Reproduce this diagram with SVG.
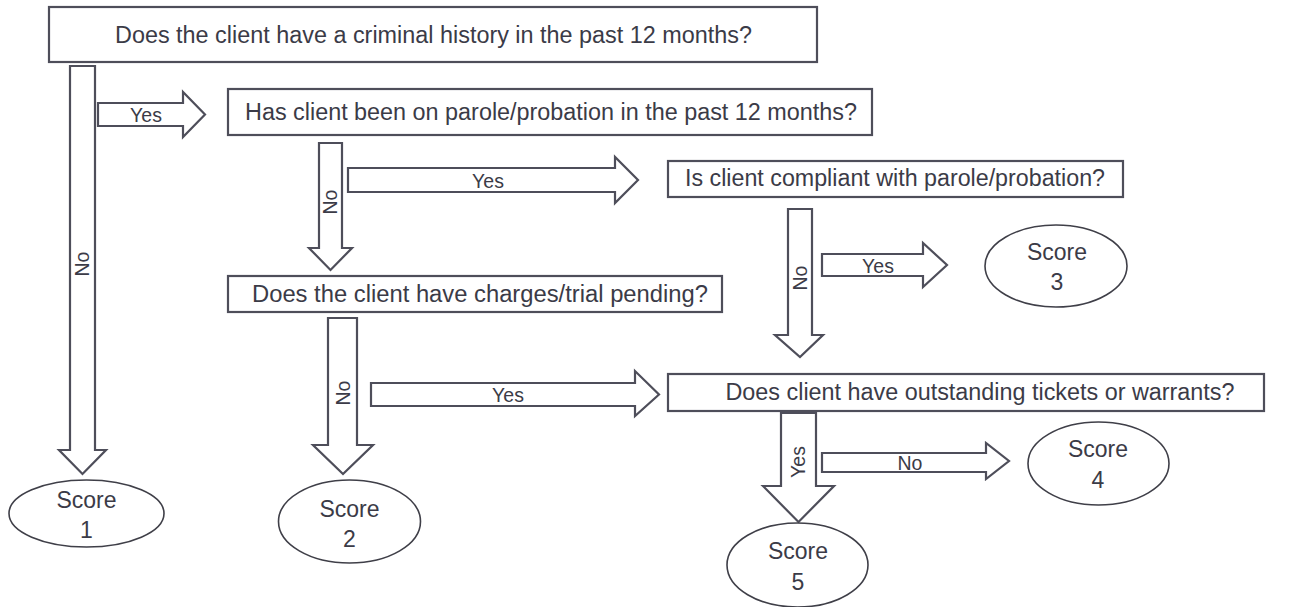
<svg xmlns="http://www.w3.org/2000/svg" width="1296" height="607" viewBox="0 0 1296 607">
  <style>
    .box { fill: #ffffff; stroke: #4e4e5a; stroke-width: 2.2; }
    .oval { fill: #ffffff; stroke: #3f3f48; stroke-width: 1.6; }
    .arrow { fill: #ffffff; stroke: #4e4e5a; stroke-width: 2.2; stroke-linejoin: miter; }
    .q { font-family: "Liberation Sans", Arial, sans-serif; font-size: 23px; fill: #3b3b47; text-anchor: middle; }
    .s { font-family: "Liberation Sans", Arial, sans-serif; font-size: 23px; fill: #3b3b47; text-anchor: middle; }
    .lbl { font-family: "Liberation Sans", Arial, sans-serif; font-size: 19.5px; fill: #3b3b47; text-anchor: middle; }
  </style>
  <rect width="1296" height="607" fill="#ffffff"/>

  <!-- block arrows -->
  <g id="connectors">
    <!-- criminal history: No -->
    <polygon class="arrow" points="70,66 95,66 95,450 106,450 82.5,474 59,450 70,450"/>
    <text class="lbl" transform="translate(89,264) rotate(-90)">No</text>
    <!-- criminal history: Yes -->
    <polygon class="arrow" points="98,103 183,103 183,92 205,114.5 183,137 183,126 98,126"/>
    <text class="lbl" x="146" y="121.5">Yes</text>

    <!-- parole/probation: No -->
    <polygon class="arrow" points="319,143 342,143 342,248 352,248 330.5,270 309,248 319,248"/>
    <text class="lbl" transform="translate(337,202) rotate(-90)">No</text>
    <!-- parole/probation: Yes -->
    <polygon class="arrow" points="348,168 615,168 615,157 638,180 615,203 615,192 348,192"/>
    <text class="lbl" x="488" y="188">Yes</text>

    <!-- compliant: No -->
    <polygon class="arrow" points="788,209 812,209 812,335 823,335 800,357 775,335 788,335"/>
    <text class="lbl" transform="translate(807,278) rotate(-90)">No</text>
    <!-- compliant: Yes -->
    <polygon class="arrow" points="822,254 923,254 923,243 947,265 923,287 923,276 822,276"/>
    <text class="lbl" x="878" y="272.5">Yes</text>

    <!-- charges pending: No -->
    <polygon class="arrow" points="328,318 357,318 357,445 373,445 343,474 313,445 328,445"/>
    <text class="lbl" transform="translate(350,393) rotate(-90)">No</text>
    <!-- charges pending: Yes -->
    <polygon class="arrow" points="371,383 635,383 635,371 659,394.5 635,416 635,406 371,406"/>
    <text class="lbl" x="508" y="401.5">Yes</text>

    <!-- tickets/warrants: Yes -->
    <polygon class="arrow" points="781,413 816,413 816,486 834,486 798.5,522 763,486 781,486"/>
    <text class="lbl" transform="translate(805,462) rotate(-90)">Yes</text>
    <!-- tickets/warrants: No -->
    <polygon class="arrow" points="822,453 986,453 986,443 1009,461 986,479 986,472 822,472"/>
    <text class="lbl" x="910" y="470">No</text>
  </g>

  <!-- question boxes -->
  <g id="q-criminal-history">
    <rect class="box" x="49" y="7" width="768" height="55"/>
    <text class="q" x="433.5" y="43" textLength="637" lengthAdjust="spacingAndGlyphs">Does the client have a criminal history in the past 12 months?</text>
  </g>
  <g id="q-parole">
    <rect class="box" x="228" y="89" width="644" height="46"/>
    <text class="q" x="551" y="120" textLength="612" lengthAdjust="spacingAndGlyphs">Has client been on parole/probation in the past 12 months?</text>
  </g>
  <g id="q-compliant">
    <rect class="box" x="668" y="161" width="455" height="36"/>
    <text class="q" x="895" y="186" textLength="420" lengthAdjust="spacingAndGlyphs">Is client compliant with parole/probation?</text>
  </g>
  <g id="q-charges">
    <rect class="box" x="228" y="276" width="494" height="36"/>
    <text class="q" x="480" y="302" textLength="456" lengthAdjust="spacingAndGlyphs">Does the client have charges/trial pending?</text>
  </g>
  <g id="q-warrants">
    <rect class="box" x="668" y="374" width="596" height="37"/>
    <text class="q" x="980" y="400" textLength="509" lengthAdjust="spacingAndGlyphs">Does client have outstanding tickets or warrants?</text>
  </g>

  <!-- score outcomes -->
  <g id="score-1">
    <ellipse class="oval" cx="86.5" cy="513.5" rx="77.5" ry="33.5"/>
    <text class="s" x="86.5" y="508">Score</text>
    <text class="s" x="86.5" y="538">1</text>
  </g>
  <g id="score-2">
    <ellipse class="oval" cx="349.5" cy="521.5" rx="71" ry="41.5"/>
    <text class="s" x="349.5" y="517">Score</text>
    <text class="s" x="349.5" y="547">2</text>
  </g>
  <g id="score-3">
    <ellipse class="oval" cx="1056" cy="266" rx="71" ry="41"/>
    <text class="s" x="1057" y="260">Score</text>
    <text class="s" x="1057" y="290">3</text>
  </g>
  <g id="score-4">
    <ellipse class="oval" cx="1098.5" cy="463.5" rx="70.5" ry="41.5"/>
    <text class="s" x="1098" y="457">Score</text>
    <text class="s" x="1098" y="488">4</text>
  </g>
  <g id="score-5">
    <ellipse class="oval" cx="797.5" cy="565" rx="70.5" ry="42"/>
    <text class="s" x="798" y="559">Score</text>
    <text class="s" x="798" y="590">5</text>
  </g>
</svg>
